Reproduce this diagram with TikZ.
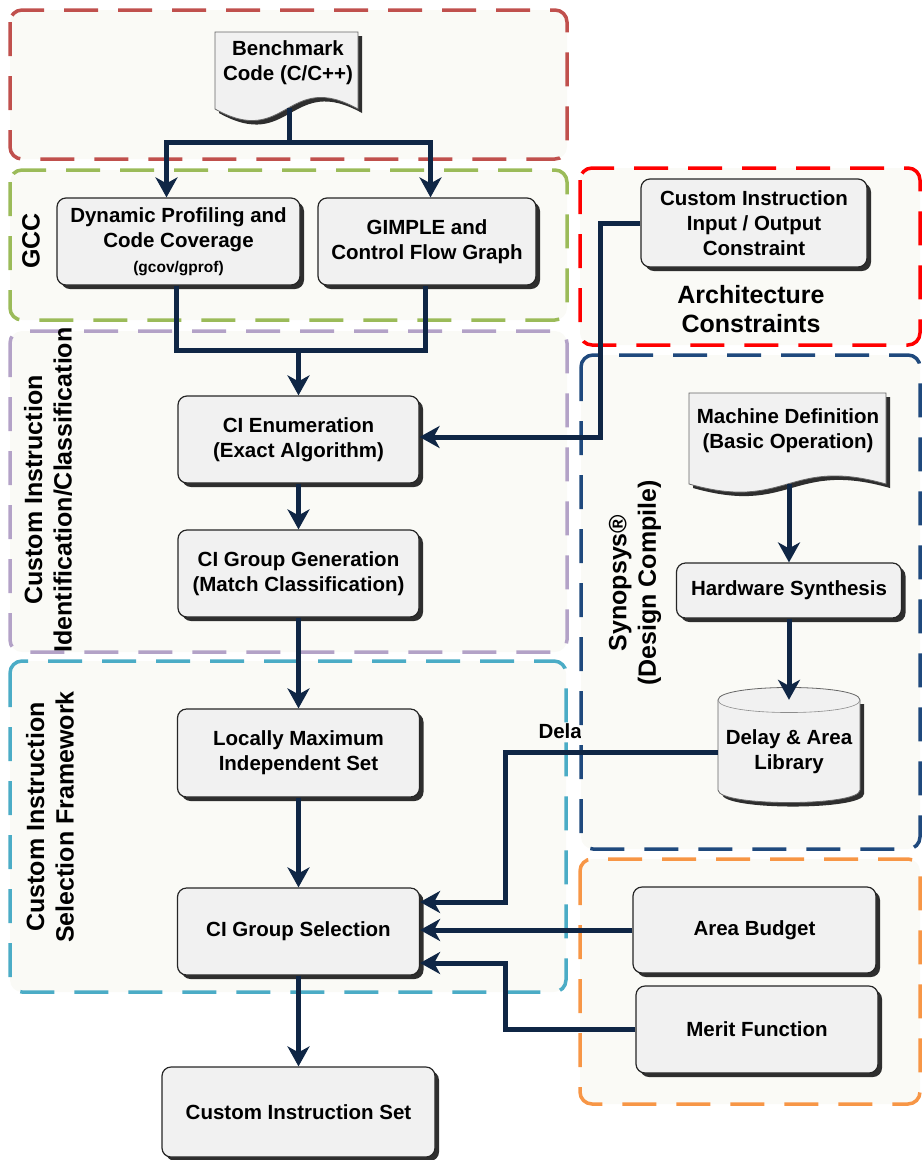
\documentclass[tikz,border=0pt]{standalone}
\usepackage{fontspec}
\setmainfont{Liberation Sans}
\usetikzlibrary{arrows.meta,shadows}
\definecolor{conncol}{HTML}{0F2645}
\definecolor{grpfill}{HTML}{FAFAF6}
\definecolor{grpred}{HTML}{C0504D}
\definecolor{grpgreen}{HTML}{9BBB59}
\definecolor{grppurple}{HTML}{B3A2C7}
\definecolor{grpcyan}{HTML}{4BACC6}
\definecolor{grparch}{HTML}{FF0000}
\definecolor{grpblue}{HTML}{1F497D}
\definecolor{grporange}{HTML}{F79646}
\definecolor{boxfill}{HTML}{F1F1F1}
\definecolor{shadowc}{HTML}{2E2E2E}
\begin{document}
\begin{tikzpicture}[x=1pt,y=-1pt,
  grp/.style={line width=3.5pt, dash pattern=on 34pt off 20pt, rounded corners=12pt, fill=grpfill},
  txt/.style={align=center, font=\bfseries\fontsize{20.5}{25}\selectfont},
  glabel/.style={align=center, font=\bfseries\fontsize{25}{29.5}\selectfont},
  box/.style={txt, draw=black!85, line width=1.2pt, rounded corners=9pt, fill=boxfill,
    drop shadow={shadow xshift=4pt, shadow yshift=-4pt, fill=shadowc, opacity=1}},
  docshape/.style={draw=black!60, line width=0.8pt, fill=boxfill},
  line/.style={draw=conncol, line width=5pt},
  arr/.style={line, -{Stealth[length=20pt, width=22pt, inset=6pt]}}]
\useasboundingbox (0,0) rectangle (923,1160);
\clip (0,0) rectangle (923,1160);

% ---------- groups ----------
\draw[grp, draw=grpred] (10,10) rectangle (567,159);
\draw[grp, draw=grpgreen] (10,170) rectangle (567,320);
\draw[grp, draw=grppurple] (10,331) rectangle (567,652);
\draw[grp, draw=grpcyan] (10,661) rectangle (566,992);
\node[txt, anchor=west] (dela) at (535,731) {Dela};
\draw[grp, draw=grpblue] (581,355) rectangle (920,849);
\draw[grp, draw=grparch] (580,168) rectangle (920,345);
\draw[grp, draw=grporange] (580,859) rectangle (920,1104);

% ---------- group labels ----------
\node[glabel, rotate=90] (gcc) at (31,241) {GCC};
\node[glabel, rotate=90] (cilbl) at (48,490) {Custom Instruction\\Identification/Classification};
\node[glabel, rotate=90] (cslbl) at (50,817) {Custom Instruction\\Selection Framework};
\node[glabel, rotate=90] (synlbl) at (635,583) {Synopsys®\\(Design Compile)};
\node[glabel] (arch) at (751,309) {Architecture\\Constraints};

% ---------- documents ----------
\fill[shadowc] (219,36) -- (362,36) -- (362,113) .. controls (290.5,73) and (290.5,153) .. (219,113) -- cycle;
\draw[docshape] (215,32) -- (358,32) -- (358,109) .. controls (286.5,69) and (286.5,149) .. (215,109) -- cycle;
\node[txt] (bench) at (288,63) {Benchmark\\Code (C/C++)};
\coordinate (benchbot) at (289,108);

\fill[shadowc] (693,397) -- (890,397) -- (890,488) .. controls (791.5,460) and (791.5,516) .. (693,488) -- cycle;
\draw[docshape] (689,393) -- (886,393) -- (886,484) .. controls (787.5,456) and (787.5,512) .. (689,484) -- cycle;
\node[txt] (mach) at (788,431) {Machine Definition\\(Basic Operation)};
\coordinate (machbot) at (789,484);

% ---------- cylinder ----------
\fill[shadowc] (722,704) -- (722,794) .. controls (722,810.7) and (864,810.7) .. (864,794) -- (864,704) -- cycle;
\draw[docshape] (718,700) -- (718,790) .. controls (718,806.7) and (860,806.7) .. (860,790) -- (860,700)
  .. controls (860,683.3) and (718,683.3) .. (718,700) -- cycle;
\draw[draw=black!45, line width=0.6pt] (718,700) .. controls (718,716.7) and (860,716.7) .. (860,700);
\node[txt, minimum width=142, minimum height=104] (lib) at (789,752) {Delay \& Area\\Library};

% ---------- boxes ----------
\node[box, minimum width=243, minimum height=87] (dyn) at (178.5,241.5)
  {Dynamic Profiling and\\Code Coverage\\{\fontsize{15.5}{18}\selectfont (gcov/gprof)}};
\node[box, minimum width=218, minimum height=87] (gimple) at (427,241.5) {GIMPLE and\\Control Flow Graph};
\node[box, minimum width=226, minimum height=88] (ciio) at (754,223) {Custom Instruction\\Input / Output\\Constraint};
\node[box, minimum width=241, minimum height=87] (cienum) at (298.5,439.5) {CI Enumeration\\(Exact Algorithm)};
\node[box, minimum width=241, minimum height=87] (cigen) at (298.5,573.5) {CI Group Generation\\(Match Classification)};
\node[box, minimum width=242, minimum height=88] (lmis) at (298.5,753) {Locally Maximum\\Independent Set};
\node[box, minimum width=242, minimum height=87] (cisel) at (298.5,931.5) {CI Group Selection};
\node[box, minimum width=273, minimum height=90] (ciset) at (298.5,1112) {Custom Instruction Set};
\node[box, minimum width=225, minimum height=55] (hw) at (789,590.5) {Hardware Synthesis};
\node[box, minimum width=243, minimum height=86] (area) at (754.5,930) {Area Budget};
\node[box, minimum width=242, minimum height=87] (merit) at (757,1029.5) {Merit Function};

% ---------- connectors ----------
\coordinate (split1) at (289,142);
\draw[line] (benchbot) -- (split1);
\draw[arr] (split1) -| ([xshift=-12pt]dyn.north);
\draw[arr] (split1) -| ([xshift=3.5pt]gimple.north);

\coordinate (merge1) at (298.5,350);
\draw[line] ([xshift=-2.5pt]dyn.south) |- (merge1) -| ([xshift=-2pt]gimple.south);
\draw[arr] (merge1) -- (cienum.north);
\draw[arr] (cienum.south) -- (cigen.north);
\draw[arr] (cigen.south) -- (lmis.north);
\draw[arr] (lmis.south) -- (cisel.north);
\draw[arr] (cisel.south) -- (ciset.north);

\coordinate (ioturn) at (600,437);
\draw[arr] (ciio.west) -| (ioturn) -- (cienum.east |- ioturn);

\draw[arr] (machbot) -- (hw.north);
\draw[arr] (hw.south) -- (lib.north);

\coordinate (dturn) at (505,902);
\draw[arr] (lib.west) -| (dturn) -- (cisel.east |- dturn);
\draw[arr] (area.west) -- (cisel.east |- area.west);
\coordinate (mturn) at (505,963);
\draw[arr] (merit.west) -| (mturn) -- (cisel.east |- mturn);
\end{tikzpicture}
\end{document}
